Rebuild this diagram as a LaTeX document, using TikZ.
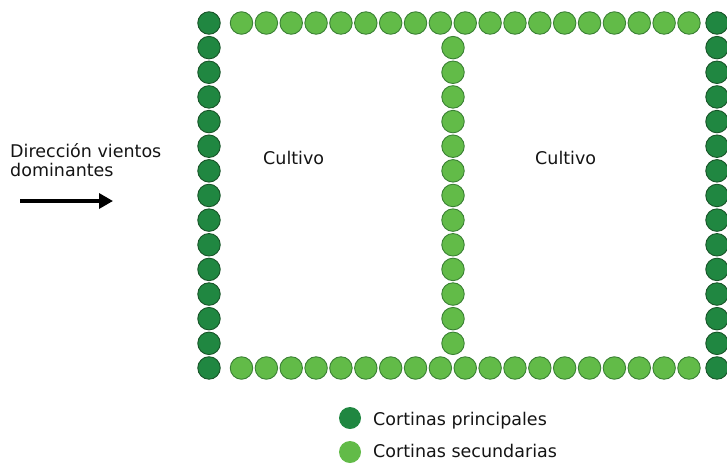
\documentclass[tikz,border=0pt]{standalone}
\usepackage{fontspec}
\setmainfont{DejaVu Sans}
\usetikzlibrary{arrows.meta}
\definecolor{darkfill}{RGB}{32,135,65}
\definecolor{darkrim}{RGB}{24,84,40}
\definecolor{lightfill}{RGB}{98,187,72}
\definecolor{lightrim}{RGB}{58,128,52}
\definecolor{txt}{RGB}{20,20,20}
\tikzset{
  principal/.style={circle,inner sep=0pt,minimum size=22.5pt,fill=darkfill,draw=darkrim,line width=0.9pt},
  secundaria/.style={circle,inner sep=0pt,minimum size=22.5pt,fill=lightfill,draw=lightrim,line width=0.9pt},
  legdark/.style={circle,inner sep=0pt,minimum size=22pt,fill=darkfill},
  leglight/.style={circle,inner sep=0pt,minimum size=22pt,fill=lightfill},
  lbl/.style={inner sep=0pt,text=txt,font=\fontsize{17.5}{19.5}\selectfont},
  windarrow/.style={line width=3.3pt,-{Triangle[length=14pt,width=15pt]}}
}
\begin{document}
\begin{tikzpicture}[x=1pt,y=-1pt]
\path[use as bounding box] (0,0) rectangle (727,469);
% principal (dark) side columns
\foreach \i in {0,...,14}{
  \node[principal] (L\i) at (209,{23+\i*24.64}) {};
  \node[principal] (R\i) at (717,{23+\i*24.64}) {};
}
% top and bottom rows of secondary curtains
\foreach \i in {0,...,18}{
  \node[secundaria] (T\i) at ({241.5+\i*24.86},23) {};
  \node[secundaria] (B\i) at ({241.5+\i*24.86},368) {};
}
% middle column
\foreach \i in {1,...,13}{
  \node[secundaria] (M\i) at (453,{23+\i*24.64}) {};
}
% labels
\node[lbl,anchor=base west] (c1) at (263,164) {Cultivo};
\node[lbl,anchor=base west] (c2) at (535,164) {Cultivo};
\node[lbl,anchor=west,align=left] (wind) at (10,160) {Dirección vientos\\dominantes};
\coordinate (a1) at (20,201);
\coordinate (a2) at (113,201);
\draw[windarrow] (a1) -- (a2);
% legend
\node[legdark] (k1) at (350,418) {};
\node[leglight] (k2) at (350,452) {};
\node[lbl,anchor=base west] (k1t) at (373,425) {Cortinas principales};
\node[lbl,anchor=base west] (k2t) at (373,457.5) {Cortinas secundarias};
\end{tikzpicture}
\end{document}
